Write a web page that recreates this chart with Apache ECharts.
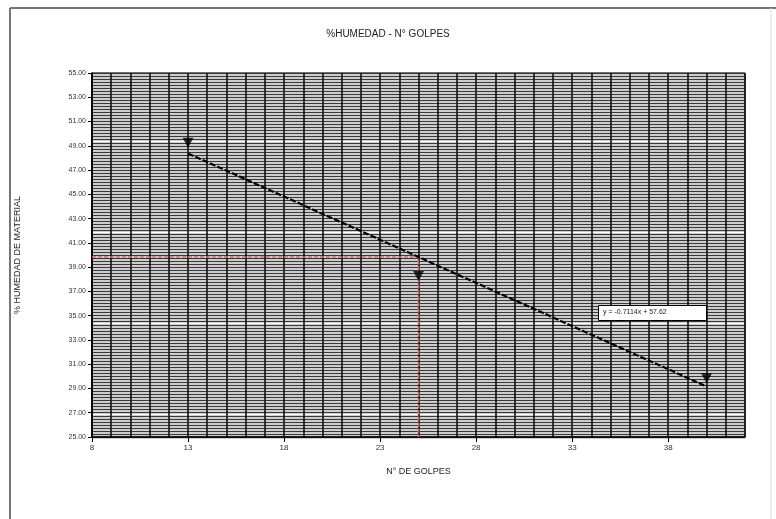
<!DOCTYPE html>
<html>
<head>
<meta charset="utf-8">
<script src="https://cdn.jsdelivr.net/npm/echarts@6/dist/echarts.min.js"></script>
<style>
  html, body { margin: 0; padding: 0; background: #fff; }
  #chart { width: 776px; height: 519px; }
</style>
</head>
<body>
<div id="chart"></div>
<script>
// Ensayo de límite líquido: número de golpes vs. % de humedad
const golpes = [13, 25, 40];
const humedad = [49.25, 38.27, 29.85];

// Recta de tendencia y = m·x + b
const pendiente = -0.7114;
const intercepto = 57.62;
const ecuacion = 'y = -0.7114x + 57.62';

// Lectura a 25 golpes
const golpesLectura = 25;

// Marcas de los ejes
const xTicks = [8, 13, 18, 23, 28, 33, 38];
const yTicks = [25, 27, 29, 31, 33, 35, 37, 39, 41, 43, 45, 47, 49, 51, 53, 55];

const recta = x => pendiente * x + intercepto;
const xIni = golpes[0], xFin = golpes[golpes.length - 1];
const tendencia = [[xIni, recta(xIni)], [xFin, recta(xFin)]];
const hLectura = recta(golpesLectura);
const lectura = [[xTicks[0], hLectura], [golpesLectura, hLectura], [golpesLectura, yTicks[0]]];

const fuente = 'Liberation Sans';
const chart = echarts.init(document.getElementById('chart'), null, { renderer: 'canvas' });

// ejes auxiliares que sólo dibujan la cuadrícula fina
const ejeCuadricula = (min, max, paso, color, ancho) => ({
  type: 'value', min, max, interval: paso,
  axisLine: { show: false }, axisTick: { show: false }, axisLabel: { show: false },
  splitLine: { show: true, lineStyle: { color, width: ancho } },
  z: 0
});

chart.setOption({
  animation: false,
  backgroundColor: '#fff',
  title: {
    text: '%HUMEDAD - N° GOLPES',
    left: 'center',
    top: 24,
    textStyle: { fontFamily: fuente, fontSize: 10, fontWeight: 'normal', color: '#222' }
  },
  grid: {
    left: 92, right: 31, top: 73, bottom: 82,
    show: true, borderColor: '#000', borderWidth: 1, backgroundColor: '#fff'
  },
  xAxis: [
    {
      type: 'value',
      min: 8, max: 42, interval: 1,
      name: 'N° DE GOLPES',
      nameLocation: 'middle',
      nameGap: 30,
      nameTextStyle: { fontFamily: fuente, fontSize: 9, color: '#222' },
      axisLine: { show: true, onZero: false, lineStyle: { color: '#000', width: 1.5 } },
      axisTick: { show: true, length: 5, customValues: xTicks, lineStyle: { color: '#000' } },
      axisLabel: { customValues: xTicks, fontFamily: fuente, fontSize: 8, color: '#333', margin: 7 },
      splitLine: { show: false }
    },
    ejeCuadricula(8, 42, 1, '#111', 1.6)
  ],
  yAxis: [
    {
      type: 'value',
      min: 25, max: 55, interval: 0.25,
      name: '% HUMEDAD DE MATERIAL',
      nameLocation: 'middle',
      nameRotate: 90,
      nameGap: 70,
      nameTextStyle: { fontFamily: fuente, fontSize: 9, color: '#222' },
      axisLine: { show: true, onZero: false, lineStyle: { color: '#000', width: 1.5 } },
      axisTick: { show: true, length: 4, customValues: yTicks, lineStyle: { color: '#000' } },
      axisLabel: {
        customValues: yTicks,
        formatter: v => v.toFixed(2),
        fontFamily: fuente, fontSize: 7, color: '#333', margin: 6
      },
      splitLine: { show: false }
    },
    ejeCuadricula(25, 55, 0.25, '#3a3a3a', 1.3)
  ],
  series: [
    {
      name: 'lectura',
      type: 'line',
      data: lectura,
      symbol: 'none',
      silent: true,
      z: 3,
      lineStyle: { color: '#d27070', width: 1.6, type: [4, 2] }
    },
    {
      name: 'tendencia',
      type: 'line',
      data: tendencia,
      symbol: 'none',
      silent: true,
      z: 4,
      lineStyle: { color: '#000', width: 2.2, type: [6, 2] }
    },
    {
      name: 'humedad',
      type: 'scatter',
      data: golpes.map((g, i) => [g, humedad[i]]),
      symbol: 'path://M0,0L10,0L5,9Z',
      symbolSize: [11, 10],
      z: 5,
      itemStyle: { color: '#000' }
    }
  ],
  graphic: [
    // marco exterior
    { type: 'line', shape: { x1: 10, y1: 8, x2: 10, y2: 519 }, style: { stroke: '#777', lineWidth: 2 } },
    { type: 'line', shape: { x1: 10, y1: 8, x2: 776, y2: 8 }, style: { stroke: '#777', lineWidth: 2 } },
    { type: 'line', shape: { x1: 771, y1: 8, x2: 771, y2: 519 }, style: { stroke: '#ddd', lineWidth: 1 } },
    // etiqueta de la ecuación
    {
      type: 'rect', left: 598, top: 305, z: 100, zlevel: 1,
      shape: { x: 0, y: 0, width: 108, height: 15 },
      style: { fill: '#fff', stroke: '#000', lineWidth: 1 }
    },
    {
      type: 'text', left: 603, top: 309, z: 101, zlevel: 1,
      style: { text: ecuacion, fontFamily: fuente, fontSize: 7, fill: '#222' }
    }
  ]
});
</script>
</body>
</html>
